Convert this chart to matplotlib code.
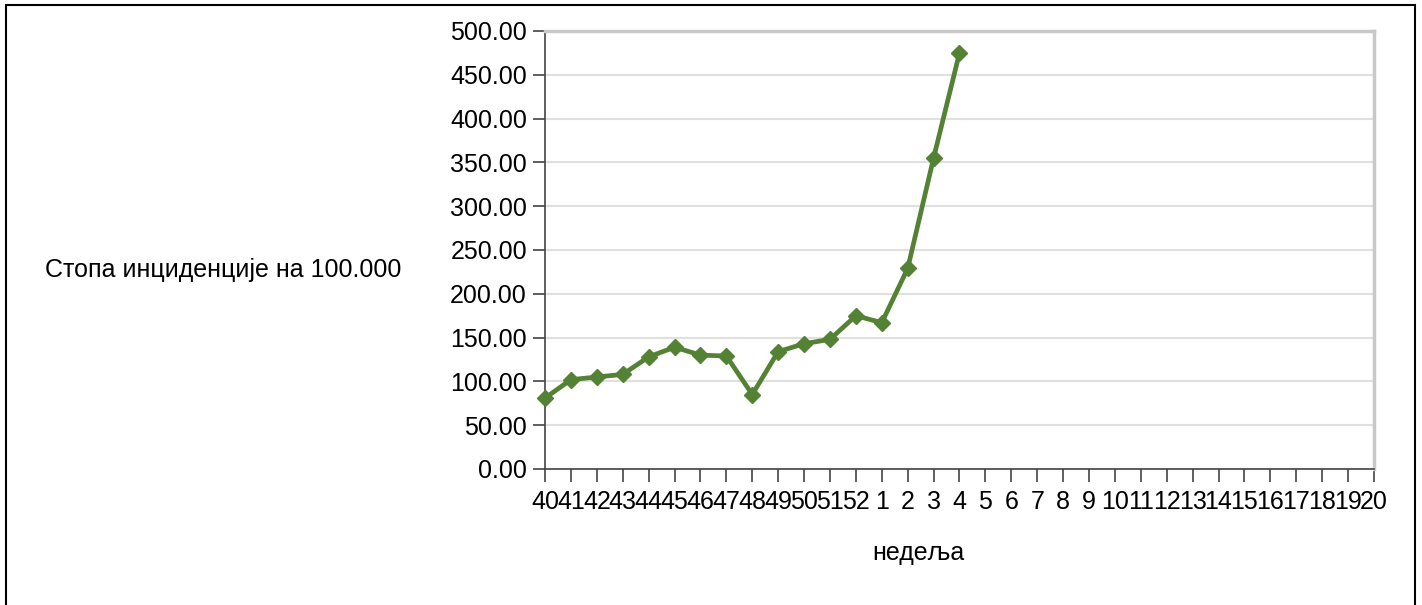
import matplotlib
matplotlib.use("Agg")
import matplotlib.pyplot as plt
from matplotlib.patches import Rectangle

plt.rcParams['font.family'] = ['Liberation Sans', 'DejaVu Sans']

weeks = ["40", "41", "42", "43", "44", "45", "46", "47", "48", "49", "50", "51", "52",
         "1", "2", "3", "4", "5", "6", "7", "8", "9", "10", "11", "12", "13", "14",
         "15", "16", "17", "18", "19", "20"]
rates = [81, 102, 105, 108, 128, 139, 130, 129, 85, 134, 143, 148, 175, 167, 229, 355, 475]
y_ticks = [0, 50, 100, 150, 200, 250, 300, 350, 400, 450, 500]

FS = 18

fig = plt.figure(figsize=(14.22, 6.05), dpi=100)
fig.patch.set_facecolor('white')
fig.patches.append(Rectangle((0.0042, -0.05), 0.9909, 1.0417, transform=fig.transFigure,
                             fill=False, edgecolor='black', linewidth=1.5, zorder=0))

ax = fig.add_axes([0.3833, 0.2248, 0.5829, 0.7240])
x = list(range(len(rates)))
ax.plot(x, rates, color='#548235', linewidth=3.4, marker='D', markersize=8,
        markerfacecolor='#548235', markeredgecolor='#548235', zorder=3, clip_on=False)

ax.set_xlim(0, len(weeks) - 1)
ax.set_ylim(0, 500)
ax.set_yticks(y_ticks)
ax.set_yticklabels([f"{v:.2f}" for v in y_ticks], fontsize=FS)
ax.set_xticks(range(len(weeks)))
ax.set_xticklabels(weeks, fontsize=FS)
ax.yaxis.grid(True, color='#e0e0e0', linewidth=1.5)
ax.set_axisbelow(True)

for s in ['left', 'bottom']:
    ax.spines[s].set_color('#444444')
    ax.spines[s].set_linewidth(1.2)
for s in ['top', 'right']:
    ax.spines[s].set_color('#c8c8c8')
    ax.spines[s].set_linewidth(2.5)

ax.tick_params(axis='y', length=9, width=1.2, color='#444444', pad=4)
ax.tick_params(axis='x', length=9, width=1.2, color='#444444', pad=6)

fig.text(45 / 1422, 1 - 270 / 605, "Стопа инциденције на 100.000", fontsize=FS,
         ha='left', va='center')
fig.text(918 / 1422, 1 - 553 / 605, "недеља", fontsize=FS, ha='center', va='center')

fig.savefig("out.png", dpi=100, facecolor='white')
